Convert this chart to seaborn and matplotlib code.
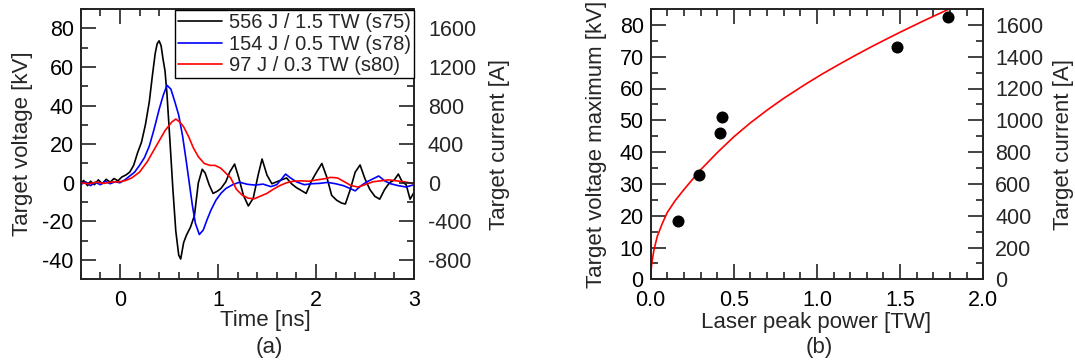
import matplotlib
matplotlib.use("Agg")
import matplotlib.pyplot as plt
from matplotlib.ticker import MultipleLocator, FormatStrFormatter
import seaborn as sns
import pandas as pd

# ---------------- data ----------------
# (a) target voltage traces [kV] vs time [ns]
t_s75 = [-0.40, -0.37, -0.33, -0.30, -0.26, -0.22, -0.18, -0.14, -0.10, -0.06,
         -0.02, 0.02, 0.06, 0.10, 0.14, 0.18, 0.22, 0.26, 0.30, 0.33,
         0.36, 0.38, 0.40, 0.42, 0.44, 0.46, 0.48, 0.51, 0.54, 0.57,
         0.60, 0.62, 0.65, 0.68, 0.72, 0.76, 0.80, 0.84, 0.87, 0.91,
         0.95, 0.99, 1.03, 1.08, 1.12, 1.17, 1.21, 1.26, 1.31, 1.36,
         1.41, 1.45, 1.50, 1.55, 1.60, 1.65, 1.70, 1.75, 1.80, 1.85,
         1.90, 1.95, 2.00, 2.06, 2.11, 2.16, 2.21, 2.26, 2.30, 2.35,
         2.40, 2.45, 2.50, 2.55, 2.60, 2.65, 2.70, 2.75, 2.80, 2.84,
         2.88, 2.92, 2.96, 3.00]
v_s75 = [-0.5, 1.2, -1.5, 0.8, -1.0, 1.5, -0.5, 1.8, 0.3, 2.2,
         1.0, 3.0, 4.0, 5.5, 9.0, 15.5, 21.0, 30.0, 42.0, 55.0,
         67.0, 72.0, 73.5, 71.0, 64.0, 58.0, 46.0, 22.0, -3.0, -25.0,
         -37.5, -39.5, -31.0, -27.0, -23.0, -17.0, 0.0, 7.0, 5.0, -1.0,
         -5.5, -4.5, -3.0, 0.5, 5.5, 9.7, 3.0, -6.5, -12.0, -8.0,
         4.0, 12.3, 4.0, -0.5, 0.5, 1.5, 2.5, -0.5, -2.5, -4.0,
         -5.5, 0.5, 5.0, 10.0, 3.0, -6.5, -9.0, -10.5, -11.0, -3.5,
         5.5, 9.2, 2.0, -3.5, -7.0, -8.5, -3.5, 0.0, 1.5, 4.5,
         0.5, -1.0, -8.5, -5.0]

t_s78 = [-0.40, -0.35, -0.30, -0.25, -0.20, -0.15, -0.10, -0.05, 0.00,
         0.05, 0.10, 0.15, 0.20, 0.25, 0.30, 0.35, 0.40, 0.44, 0.48,
         0.52, 0.56, 0.60, 0.64, 0.68, 0.71, 0.74, 0.77, 0.81, 0.85,
         0.89, 0.93, 0.98, 1.03, 1.08, 1.15, 1.22, 1.30, 1.38, 1.46,
         1.54, 1.60, 1.65, 1.69, 1.74, 1.80, 1.88, 1.96, 2.04, 2.12,
         2.20, 2.28, 2.35, 2.40, 2.46, 2.52, 2.58, 2.64, 2.70, 2.76,
         2.84, 2.92, 3.00]
v_s78 = [-1.0, 0.5, -1.5, 0.3, -1.0, 0.8, -0.5, 0.5, 0.0,
         1.5, 3.5, 5.5, 9.0, 13.0, 19.0, 28.0, 38.0, 45.0, 50.5,
         48.5, 42.0, 35.0, 24.0, 10.0, -1.0, -12.0, -21.0, -26.8, -24.5,
         -19.0, -14.0, -9.0, -5.5, -3.0, -1.0, 0.3, -0.8, -1.2, -0.7,
         -2.0, -1.0, 2.0, 4.5, 2.5, 0.5, -1.0, -0.5, -0.3, 0.2,
         -0.5, -1.5, -3.0, -4.2, -1.5, 0.5, 2.0, 3.5, 1.0, -0.5,
         -1.5, -2.2, -1.0]

t_s80 = [-0.40, -0.32, -0.24, -0.16, -0.08, 0.00, 0.06, 0.12, 0.20, 0.28,
         0.37, 0.46, 0.53, 0.57, 0.61, 0.65, 0.70, 0.75, 0.80, 0.86,
         0.92, 0.97, 1.03, 1.08, 1.13, 1.19, 1.25, 1.31, 1.37, 1.43,
         1.50, 1.56, 1.63, 1.70, 1.77, 1.85, 1.93, 2.01, 2.08, 2.15,
         2.22, 2.29, 2.36, 2.43, 2.50, 2.58, 2.66, 2.74, 2.82, 2.90,
         3.00]
v_s80 = [0.0, -0.5, 0.3, -0.3, 0.4, 0.5, 1.2, 2.5, 5.5, 11.0,
         19.0, 27.0, 31.5, 33.0, 31.5, 29.0, 24.0, 18.0, 13.5, 10.0,
         9.0, 9.0, 7.5, 5.0, 2.5, -3.5, -6.5, -8.0, -8.3, -7.0,
         -5.5, -3.5, -1.5, 0.0, 0.8, 1.0, 0.8, 1.5, 2.0, 2.8,
         2.5, 0.5, -1.5, -2.2, -1.0, 0.5, 1.0, 1.5, 1.0, 0.5,
         -0.5]

series_labels = ["556 J / 1.5 TW (s75)", "154 J / 0.5 TW (s78)", "97 J / 0.3 TW (s80)"]
series_colors = ["#000000", "#0000ff", "#ff0000"]

# (b) maximum target voltage vs laser peak power
power_tw = [0.165, 0.29, 0.418, 0.43, 1.48, 1.79]
vmax_kv = [18.4, 32.8, 46.0, 50.9, 73.2, 82.6]

# fitted curve as drawn in the reference
fit_p = [0.0, 0.005, 0.01, 0.02, 0.04, 0.07, 0.10, 0.15, 0.20, 0.30, 0.40,
         0.50, 0.60, 0.70, 0.80, 0.93, 1.03, 1.13, 1.23, 1.33, 1.42, 1.50,
         1.63, 1.72, 1.82]
fit_v = [0.0, 4.0, 6.0, 9.2, 13.5, 17.5, 21.0, 24.9, 28.2, 34.4, 39.8,
         44.8, 49.2, 53.2, 56.9, 61.3, 64.5, 67.5, 70.4, 73.2, 75.6, 77.7,
         81.0, 83.2, 85.6]

amps_per_kv = 20.0  # right axis scale (80 kV <-> 1600 A)

# ---------------- style ----------------
sns.set_theme(style="ticks")
plt.rcParams["font.family"] = ["Liberation Sans", "DejaVu Sans"]
plt.rcParams["axes.unicode_minus"] = False
SPINE = "#222222"
plt.rcParams["axes.edgecolor"] = SPINE
plt.rcParams["axes.linewidth"] = 1.2

TICK_FS = 15.5
LABEL_FS = 16

fig = plt.figure(figsize=(10.75, 3.6), dpi=100)
W, H = 1075.0, 360.0


def add_ax(x0, x1, ytop, ybot):
    return fig.add_axes([x0 / W, (H - ybot) / H, (x1 - x0) / W, (ybot - ytop) / H])


def style_ticks(ax, xmaj, xmin, ymaj, ymin, left_pad, x_pad):
    ax.xaxis.set_major_locator(MultipleLocator(xmaj))
    ax.xaxis.set_minor_locator(MultipleLocator(xmin))
    ax.yaxis.set_major_locator(MultipleLocator(ymaj))
    ax.yaxis.set_minor_locator(MultipleLocator(ymin))
    ax.tick_params(which="both", direction="in", top=True, right=False,
                   color=SPINE, width=1.2, labelsize=TICK_FS, labelcolor="black")
    ax.tick_params(which="major", length=10.5)
    ax.tick_params(which="minor", length=5.2)
    ax.tick_params(axis="y", pad=left_pad)
    ax.tick_params(axis="x", pad=x_pad)


def style_right(axr, ymaj, ymin, pad):
    axr.yaxis.set_major_locator(MultipleLocator(ymaj))
    axr.yaxis.set_minor_locator(MultipleLocator(ymin))
    axr.tick_params(which="both", direction="in", right=True, left=False,
                    color=SPINE, width=1.2, labelsize=TICK_FS, pad=pad)
    axr.tick_params(which="major", length=10.5)
    axr.tick_params(which="minor", length=5.2)


# ---------------- panel (a) ----------------
ax1 = add_ax(80.7, 414.0, 9.0, 279.3)
traces = [(t_s75, v_s75), (t_s78, v_s78), (t_s80, v_s80)]
for (tt, vv), lab, col in zip(traces, series_labels, series_colors):
    df = pd.DataFrame({"t": tt, "v": vv})
    sns.lineplot(data=df, x="t", y="v", ax=ax1, color=col, lw=1.2,
                 estimator=None, sort=False, label=lab)
ax1.set_xlim(-0.4, 3.0)
ax1.set_ylim(-50, 90)
style_ticks(ax1, 1, 0.2, 20, 10, left_pad=5, x_pad=8)
ax1.set_xlabel("Time [ns]", fontsize=LABEL_FS)
ax1.set_ylabel("Target voltage [kV]", fontsize=LABEL_FS)
ax1.xaxis.label.set_va("center")
ax1.yaxis.label.set_va("center")
ax1.xaxis.set_label_coords(0.553, -0.151)
ax1.yaxis.set_label_coords(-0.176, 0.5)
handles, labels = ax1.get_legend_handles_labels()
if ax1.get_legend() is not None:
    ax1.get_legend().remove()

ax1r = ax1.twinx()
ax1r.set_ylim(-50 * amps_per_kv, 90 * amps_per_kv)
style_right(ax1r, 400, 200, pad=10)
ax1r.set_ylabel("Target current [A]", fontsize=LABEL_FS)
ax1r.yaxis.label.set_va("center")
ax1r.yaxis.set_label_coords(1.258, 0.5)

leg = ax1r.legend(handles, labels, loc="upper right", bbox_to_anchor=(1.0, 0.995),
                  borderaxespad=0.0, fontsize=14.5, frameon=True, fancybox=False,
                  edgecolor="black", framealpha=1.0, handlelength=2.2,
                  handletextpad=0.33, borderpad=0.15, labelspacing=0.12)
leg.get_frame().set_linewidth(1.0)

# ---------------- panel (b) ----------------
ax2 = add_ax(650.6, 983.3, 9.0, 279.3)
fit_df = pd.DataFrame({"p": fit_p, "v": fit_v})
sns.lineplot(data=fit_df, x="p", y="v", ax=ax2, color="#ff0000", lw=1.2,
             estimator=None, sort=False)
pts_df = pd.DataFrame({"p": power_tw, "v": vmax_kv})
sns.scatterplot(data=pts_df, x="p", y="v", ax=ax2, color="black", s=75,
                edgecolor="black", linewidth=0, zorder=3)
ax2.set_xlim(0.0, 2.0)
ax2.set_ylim(0, 85)
style_ticks(ax2, 0.5, 0.1, 10, 5, left_pad=5, x_pad=7.5)
ax2.xaxis.set_major_formatter(FormatStrFormatter("%.1f"))
ax2.set_xlabel("Laser peak power [TW]", fontsize=LABEL_FS)
ax2.set_ylabel("Target voltage maximum [kV]", fontsize=LABEL_FS)
ax2.xaxis.label.set_va("center")
ax2.yaxis.label.set_va("center")
ax2.xaxis.set_label_coords(0.497, -0.158)
ax2.yaxis.set_label_coords(-0.164, 0.5)

ax2r = ax2.twinx()
ax2r.set_ylim(0, 85 * amps_per_kv)
style_right(ax2r, 200, 100, pad=8.5)
ax2r.set_ylabel("Target current [A]", fontsize=LABEL_FS)
ax2r.yaxis.label.set_va("center")
ax2r.yaxis.set_label_coords(1.2396, 0.5)

fig.text(269 / W, 1 - 347 / H, "(a)", fontsize=LABEL_FS, ha="center", va="center")
fig.text(819.6 / W, 1 - 347 / H, "(b)", fontsize=LABEL_FS, ha="center", va="center")

fig.savefig("out.png", dpi=100)
